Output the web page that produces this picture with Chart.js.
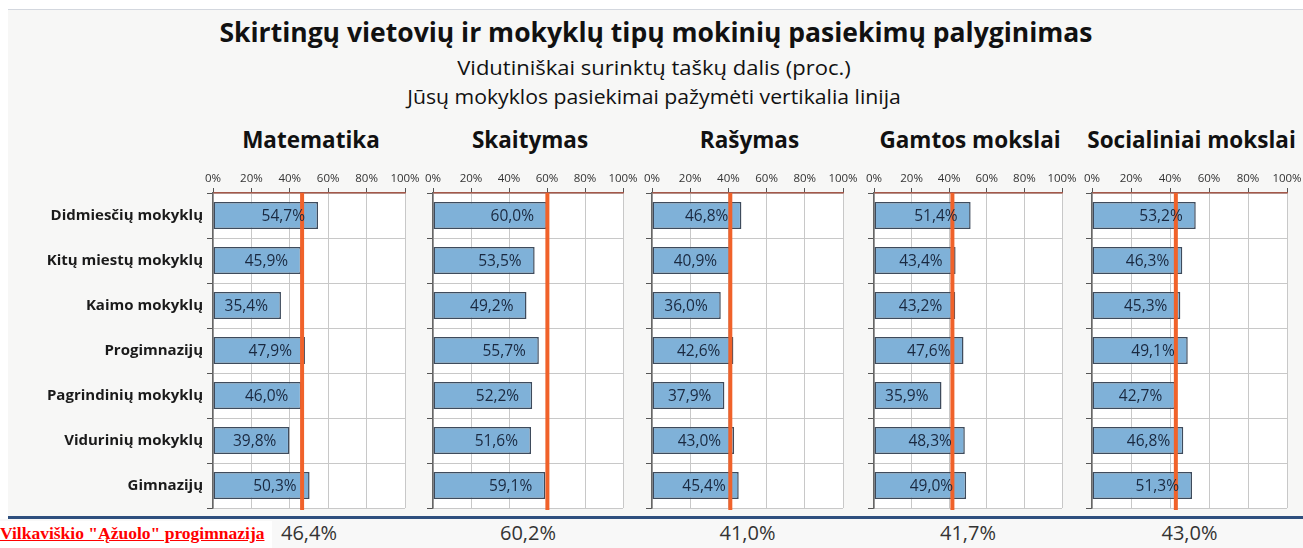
<!DOCTYPE html>
<html><head><meta charset="utf-8">
<script src="https://cdn.jsdelivr.net/npm/chart.js@4.4.1/dist/chart.umd.min.js"></script>
<style>
html,body{margin:0;padding:0;}
body{width:1303px;height:548px;position:relative;overflow:hidden;background:#fff;font-family:"Open Sans",sans-serif;}
#sheet{position:absolute;left:8px;top:9px;width:1295px;height:508px;background:#f7f7f6;border-top:1px solid #d3d7de;}
#rule{position:absolute;left:8px;top:516px;width:1295px;height:3px;background:#2e4f7e;}
#lower{position:absolute;left:0;top:519px;width:1303px;height:29px;background:#f8f8f8;}
.t{position:absolute;width:1000px;text-align:center;white-space:nowrap;color:#111;}
#title{left:156px;top:14px;font-size:26.5px;font-weight:700;}
#sub1{left:154px;top:54px;font-size:20px;transform:scaleX(1.1);}
#sub2{left:154px;top:83px;font-size:20px;transform:scaleX(1.06);}
.pt{position:absolute;width:300px;text-align:center;font-size:22.5px;font-weight:700;color:#111;top:124px;white-space:nowrap;}
.bv{position:absolute;width:200px;text-align:center;font-size:20px;color:#333;top:519px;}
#school{position:absolute;left:0;top:521px;width:272px;height:27px;background:#fff;}
#school span{position:absolute;left:0;top:2px;font-family:"Liberation Serif",serif;font-weight:700;font-size:17.5px;color:#f00;text-decoration:underline;white-space:nowrap;}
.pn{position:absolute;}
</style></head>
<body>
<div id="sheet"></div>
<div id="rule"></div>
<div id="lower"></div>
<div class="t" id="title">Skirtingų vietovių ir mokyklų tipų mokinių pasiekimų palyginimas</div>
<div class="t" id="sub1">Vidutiniškai surinktų taškų dalis (proc.)</div>
<div class="t" id="sub2">Jūsų mokyklos pasiekimai pažymėti vertikalia linija</div>
<div id="school"><span></span></div>
<script>
// ---- data ----
const categories = ['Didmiesčių mokyklų','Kitų miestų mokyklų','Kaimo mokyklų','Progimnazijų','Pagrindinių mokyklų','Vidurinių mokyklų','Gimnazijų'];
const subjects = ['Matematika','Skaitymas','Rašymas','Gamtos mokslai','Socialiniai mokslai'];
const matematika = [54.7,45.9,35.4,47.9,46.0,39.8,50.3];
const skaitymas = [60.0,53.5,49.2,55.7,52.2,51.6,59.1];
const rasymas = [46.8,40.9,36.0,42.6,37.9,43.0,45.4];
const gamtosMokslai = [51.4,43.4,43.2,47.6,35.9,48.3,49.0];
const socialiniaiMokslai = [53.2,46.3,45.3,49.1,42.7,46.8,51.3];
const schoolValues = [46.4,60.2,41.0,41.7,43.0];
const axisTicks = [0,20,40,60,80,100];
const schoolName = 'Vilkaviškio "Ąžuolo" progimnazija';

const seriesList = [matematika, skaitymas, rasymas, gamtosMokslai, socialiniaiMokslai];

// ---- layout ----
const PANEL_LEFT = [213, 433, 652, 874, 1092];
const PANEL_W = [192, 190, 191, 188, 195];
const TOP = 160, XH = 33, PLOT_H = 315, PAD_B = 4, PAD_R = 24;

const fmt = v => v.toFixed(1).replace('.', ',') + '%';
document.querySelector('#school span').textContent = schoolName;

function addText(cls, text, left){
  const d = document.createElement('div');
  d.className = cls; d.textContent = text; d.style.left = left + 'px';
  document.body.appendChild(d);
}

seriesList.forEach((values, i) => {
  const W = i === 0 ? 213 : 10;
  const left = PANEL_LEFT[i] - W;
  const cw = W + PANEL_W[i] + PAD_R;
  const ch = XH + PLOT_H + PAD_B;
  const center = PANEL_LEFT[i] + PANEL_W[i] / 2;
  addText('pt', subjects[i], center - 150 + 2);
  addText('bv', fmt(schoolValues[i]), center - 100);

  const div = document.createElement('div');
  div.className = 'pn';
  div.style.left = left + 'px'; div.style.top = TOP + 'px';
  const cv = document.createElement('canvas');
  cv.width = cw; cv.height = ch;
  cv.style.width = cw + 'px'; cv.style.height = ch + 'px';
  div.appendChild(cv);
  document.body.appendChild(div);

  const panelPlugin = {
    id: 'panel' + i,
    beforeDraw(chart){
      const a = chart.chartArea, c = chart.ctx;
      c.save(); c.fillStyle = '#ffffff';
      c.fillRect(a.left, a.top, a.right - a.left, a.bottom - a.top);
      c.restore();
    },
    afterDatasetsDraw(chart){
      const a = chart.chartArea, c = chart.ctx;
      const xs = chart.scales.x;
      const px = xs.getPixelForValue(schoolValues[i]);
      c.save();
      c.strokeStyle = '#f0622a'; c.lineWidth = 4;
      c.beginPath(); c.moveTo(px, a.top); c.lineTo(px, a.bottom + 2); c.stroke();
      const meta = chart.getDatasetMeta(0);
      c.font = '15.5px "Open Sans"';
      c.fillStyle = '#1a2940';
      c.textAlign = 'right'; c.textBaseline = 'middle';
      meta.data.forEach((bar, k) => {
        c.fillText(fmt(values[k]), bar.x - 13, bar.y + 1);
      });
      c.restore();
    }
  };

  new Chart(cv, {
    type: 'bar',
    data: {
      labels: categories,
      datasets: [{
        data: values,
        backgroundColor: '#7fb1d8',
        borderColor: '#3e4b5c',
        borderWidth: 1.5,
        borderSkipped: false,
        barPercentage: 0.6,
        categoryPercentage: 1
      }]
    },
    options: {
      indexAxis: 'y',
      responsive: false,
      animation: false,
      devicePixelRatio: 1,
      layout: { padding: { left: 0, top: 0, right: PAD_R, bottom: PAD_B } },
      plugins: { legend: { display: false }, tooltip: { enabled: false } },
      scales: {
        x: {
          type: 'linear', position: 'top', min: 0, max: 100,
          afterBuildTicks(s){ s.ticks = axisTicks.map(v => ({ value: v })); },
          afterFit(s){ s.height = XH; s.paddingLeft = 0; s.paddingRight = 0; },
          ticks: { callback: v => v + '%', font: { family: 'Open Sans', size: 11.5 }, color: '#333', padding: 2, maxRotation: 0, autoSkip: false },
          grid: { color: '#c8c8c8', lineWidth: 1, tickLength: 5, tickColor: '#555' },
          border: { color: '#a4584a', width: 1.5 }
        },
        y: {
          position: 'left',
          afterFit(s){ s.width = W; s.paddingTop = 0; s.paddingBottom = 0; },
          ticks: { display: i === 0, font: { family: 'Open Sans', size: 15, weight: 'bold' }, color: '#1a1a1a', padding: 4, autoSkip: false },
          grid: { offset: true, color: '#c8c8c8', lineWidth: 1, tickLength: 6, tickColor: '#555' },
          border: { color: '#666', width: 1.5 }
        }
      }
    },
    plugins: [panelPlugin]
  });
});
</script>
</body></html>
